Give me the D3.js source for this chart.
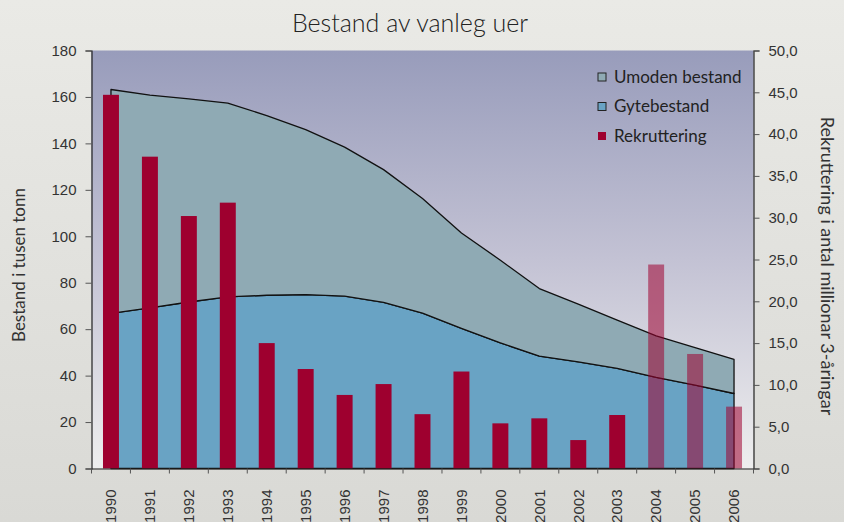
<!DOCTYPE html>
<html>
<head>
<meta charset="utf-8">
<script src="https://cdn.jsdelivr.net/npm/d3@7"></script>
<style>
  html, body { margin: 0; padding: 0; }
  body { width: 844px; height: 522px; overflow: hidden; }
  svg { display: block; font-family: "Lato", "Open Sans", sans-serif; }
</style>
</head>
<body>
<svg id="chart" width="844" height="522"></svg>
<script>
// ---- data ----
const years = ["1990","1991","1992","1993","1994","1995","1996","1997","1998","1999","2000","2001","2002","2003","2004","2005","2006"];
const gytebestand = [66.8, 69.2, 71.7, 73.9, 74.6, 74.9, 74.2, 71.5, 66.9, 60.3, 54.1, 48.4, 45.9, 43.1, 39.2, 35.9, 32.3];
const umodenBestand = [96.4, 91.6, 87.5, 83.4, 77.4, 71.0, 64.2, 57.2, 49.4, 41.1, 35.6, 29.1, 24.9, 20.8, 17.9, 16.1, 14.7];
const rekruttering = [44.7, 37.3, 30.2, 31.8, 15.0, 11.9, 8.8, 10.1, 6.5, 11.6, 5.4, 6.0, 3.4, 6.4, 24.4, 13.7, 7.4];
const prognoseYears = ["2004","2005","2006"];
const leftTicks = [0,20,40,60,80,100,120,140,160,180];
const rightTicks = [0,5,10,15,20,25,30,35,40,45,50];
const seriesNames = ["Umoden bestand","Gytebestand","Rekruttering"];
const titleText = "Bestand av vanleg uer";
const leftTitle = "Bestand i tusen tonn";
const rightTitle = "Rekruttering i antal millionar 3-åringar";

// ---- layout ----
const svg = d3.select("#chart");
const L = 91.5, R = 753.5, T = 50.5, B = 468.5;

const defs = svg.append("defs");
const pg = defs.append("linearGradient").attr("id","pageBg").attr("x1",0).attr("y1",0).attr("x2",0).attr("y2",1);
pg.append("stop").attr("offset","0%").attr("stop-color","#eaeae6");
pg.append("stop").attr("offset","100%").attr("stop-color","#d9d9d5");
const bg = defs.append("linearGradient").attr("id","plotBg").attr("x1",0).attr("y1",0).attr("x2",0).attr("y2",1);
bg.append("stop").attr("offset","0%").attr("stop-color","#989cbb");
bg.append("stop").attr("offset","50%").attr("stop-color","#c3c2d4");
bg.append("stop").attr("offset","100%").attr("stop-color","#eeeeee");

svg.append("rect").attr("width",844).attr("height",522).attr("fill","url(#pageBg)");
svg.append("rect").attr("x",L).attr("y",T).attr("width",R-L).attr("height",B-T).attr("fill","url(#plotBg)");

// scales
const x = d3.scaleBand().domain(years).range([L, R]).padding(0);
const yL = d3.scaleLinear().domain([0,180]).range([B, T]);
const yR = d3.scaleLinear().domain([0,50]).range([B, T]);
const cx = d => x(d) + x.bandwidth()/2;

// stacked areas
const table = years.map((y,i) => ({year:y, gyte:gytebestand[i], umoden:umodenBestand[i]}));
const stack = d3.stack().keys(["gyte","umoden"]);
const stacked = stack(table);
const areaGen = d3.area().x(d => cx(d.data.year)).y0(d => yL(d[0])).y1(d => yL(d[1]));
const areaColors = {gyte:"#69a3c4", umoden:"#8faab4"};

svg.append("g").selectAll("path").data(stacked).join("path")
  .attr("d", d => areaGen(d) )
  .attr("fill", d => areaColors[d.key])
  .attr("stroke","#111")
  .attr("stroke-width",1.3)
  .attr("stroke-linejoin","round");

// bars
const bw = x.bandwidth()*0.41;
svg.append("g").selectAll("rect").data(years).join("rect")
  .attr("x", d => cx(d) - bw/2)
  .attr("width", bw)
  .attr("y", (d,i) => yR(rekruttering[i]))
  .attr("height", (d,i) => B - yR(rekruttering[i]))
  .attr("fill", "#9e002f")
  .attr("fill-opacity", d => prognoseYears.includes(d) ? 0.55 : 1);

// axes
const axisColor = "#222";
const textColor = "#333";
const gL = svg.append("g").attr("transform",`translate(${L},0)`)
  .call(d3.axisLeft(yL).tickValues(leftTicks).tickSize(6).tickPadding(9));
const gR = svg.append("g").attr("transform",`translate(${R},0)`)
  .call(d3.axisRight(yR).tickValues(rightTicks).tickSize(6).tickPadding(9).tickFormat(d => d3.format(".1f")(d).replace(".",",")));
[gL,gR].forEach(g => {
  g.select(".domain").attr("stroke",axisColor).attr("stroke-width",1.2);
  g.selectAll(".tick line").attr("stroke","#555");
  g.selectAll(".tick text").attr("fill",textColor).style("font-size","15px");
});

// x axis
const gX = svg.append("g").attr("transform",`translate(0,${B})`)
  .call(d3.axisBottom(x).tickSize(0).tickPadding(0));
gX.select(".domain").attr("stroke",axisColor).attr("stroke-width",1.2);
gX.selectAll(".tick text")
  .attr("fill",textColor).style("font-size","15px")
  .attr("text-anchor","end")
  .attr("transform","translate(0,21) rotate(-90)")
  .attr("dx",0).attr("dy","0.35em").attr("y",0).attr("x",0);
const edges = years.map(d => x(d)).concat([R]);
gX.append("g").selectAll("line").data(edges).join("line")
  .attr("x1", d=>d).attr("x2", d=>d).attr("y1",0).attr("y2",5)
  .attr("stroke","#555");

// titles
svg.append("text").attr("x",410).attr("y",32).attr("text-anchor","middle")
  .attr("fill","#222").style("font-size","25px").style("font-weight","300").text(titleText);
svg.append("text").attr("transform","translate(25,265) rotate(-90)").attr("text-anchor","middle")
  .attr("fill",textColor).style("font-size","17px").text(leftTitle);
svg.append("text").attr("transform","translate(821,266) rotate(90)").attr("text-anchor","middle")
  .attr("fill",textColor).style("font-size","18px").text(rightTitle);

// legend
const legendFill = ["#8faab4","#69a3c4","#9e002f"];
const lg = svg.append("g").attr("transform","translate(598,0)");
seriesNames.forEach((n,i) => {
  const yy = 77 + i*29.5;
  lg.append("rect").attr("x",0).attr("y",yy-4).attr("width",8).attr("height",8)
    .attr("fill",legendFill[i]).attr("stroke", i<2 ? "#222" : "none").attr("stroke-width",1);
  lg.append("text").attr("x",16).attr("y",yy+5.5).attr("fill","#222")
    .style("font-size","17px").text(n);
});
</script>
</body>
</html>
